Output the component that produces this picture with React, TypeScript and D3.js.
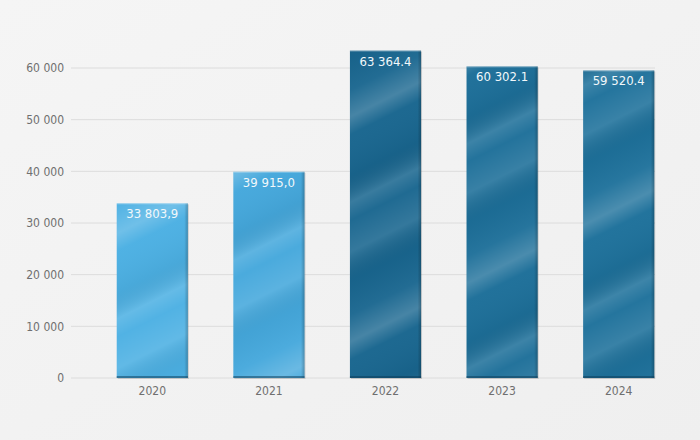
import React from "react";
import * as d3 from "d3";

const years = ["2020", "2021", "2022", "2023", "2024"];
const values = [33803.9, 39915.0, 63364.4, 60302.1, 59520.4];
const valueLabels = ["33 803,9", "39 915,0", "63 364.4", "60 302.1", "59 520.4"];
const yTicks = [0, 10000, 20000, 30000, 40000, 50000, 60000];
const barColors = ["#4cb0e3", "#45a8dc", "#19668f", "#1d6f99", "#1e719b"];

const W = 700;
const H = 440;

export default function App() {
  const x = d3
    .scaleBand<string>()
    .domain(years)
    .range([94, 677])
    .paddingInner(0.39)
    .paddingOuter(0.195);
  const y = d3.scaleLinear().domain([0, 60000]).range([378, 68]);
  const fmt = (v: number) => d3.format(",")(v).replace(/,/g, " ");
  const font = "'DejaVu Sans Condensed', 'Roboto', 'Liberation Sans', sans-serif";

  return (
    <svg
      width={W}
      height={H}
      style={{ position: "absolute", left: 0, top: 0, background: "#f2f2f2" }}
    >
      <defs>
        <linearGradient id="bg" x1="0" y1="0" x2="1" y2="1">
          <stop offset="0" stopColor="#f5f5f5" />
          <stop offset="0.5" stopColor="#f2f2f2" />
          <stop offset="1" stopColor="#efefef" />
        </linearGradient>
        <linearGradient
          id="gloss"
          gradientUnits="userSpaceOnUse"
          x1={0}
          y1={40}
          x2={90}
          y2={220}
          spreadMethod="repeat"
        >
          <stop offset="0" stopColor="#fff" stopOpacity="0.04" />
          <stop offset="0.12" stopColor="#fff" stopOpacity="0.2" />
          <stop offset="0.2" stopColor="#fff" stopOpacity="0.02" />
          <stop offset="0.38" stopColor="#000" stopOpacity="0.04" />
          <stop offset="0.5" stopColor="#fff" stopOpacity="0.14" />
          <stop offset="0.58" stopColor="#fff" stopOpacity="0.03" />
          <stop offset="0.72" stopColor="#fff" stopOpacity="0.12" />
          <stop offset="0.85" stopColor="#000" stopOpacity="0.03" />
          <stop offset="1" stopColor="#fff" stopOpacity="0.04" />
        </linearGradient>
        <linearGradient id="edge" x1="0" y1="0" x2="1" y2="0">
          <stop offset="0" stopColor="#000" stopOpacity="0.0" />
          <stop offset="0.95" stopColor="#000" stopOpacity="0.0" />
          <stop offset="1" stopColor="#000" stopOpacity="0.22" />
        </linearGradient>
      </defs>
      <rect x={0} y={0} width={W} height={H} fill="url(#bg)" />
      {yTicks.map((t) => (
        <g key={t}>
          <line x1={71} x2={655} y1={y(t)} y2={y(t)} stroke="#dcdcdc" strokeWidth={1} />
          <text
            x={64}
            y={y(t)}
            dy="0.35em"
            textAnchor="end"
            fontFamily={font}
            fontSize={12}
            fill="#6f6f6f"
          >
            {fmt(t)}
          </text>
        </g>
      ))}
      {years.map((yr, i) => {
        const bx = x(yr) as number;
        const bw = x.bandwidth();
        const top = y(values[i]);
        const h = y(0) - top;
        return (
          <g key={yr}>
            <rect x={bx + 1} y={top + 1} width={bw} height={h} fill="#000" opacity={0.15} />
            <rect x={bx} y={top} width={bw} height={h} fill={barColors[i]} />
            <rect x={bx} y={top} width={bw} height={h} fill="url(#gloss)" />
            <rect x={bx} y={top} width={bw} height={h} fill="url(#edge)" />
            <rect x={bx} y={y(0) - 2} width={bw} height={2} fill="#0c3a55" opacity={0.5} />
            <line x1={bx} x2={bx + bw} y1={top + 0.5} y2={top + 0.5} stroke="#fff" strokeOpacity={0.3} />
            <text
              x={bx + bw / 2}
              y={top + 15}
              textAnchor="middle"
              fontFamily={font}
              fontSize={13}
              fill="#f2f8fb"
            >
              {valueLabels[i]}
            </text>
            <text
              x={bx + bw / 2}
              y={y(0) + 17}
              textAnchor="middle"
              fontFamily={font}
              fontSize={12}
              fill="#6f6f6f"
            >
              {yr}
            </text>
          </g>
        );
      })}
    </svg>
  );
}
